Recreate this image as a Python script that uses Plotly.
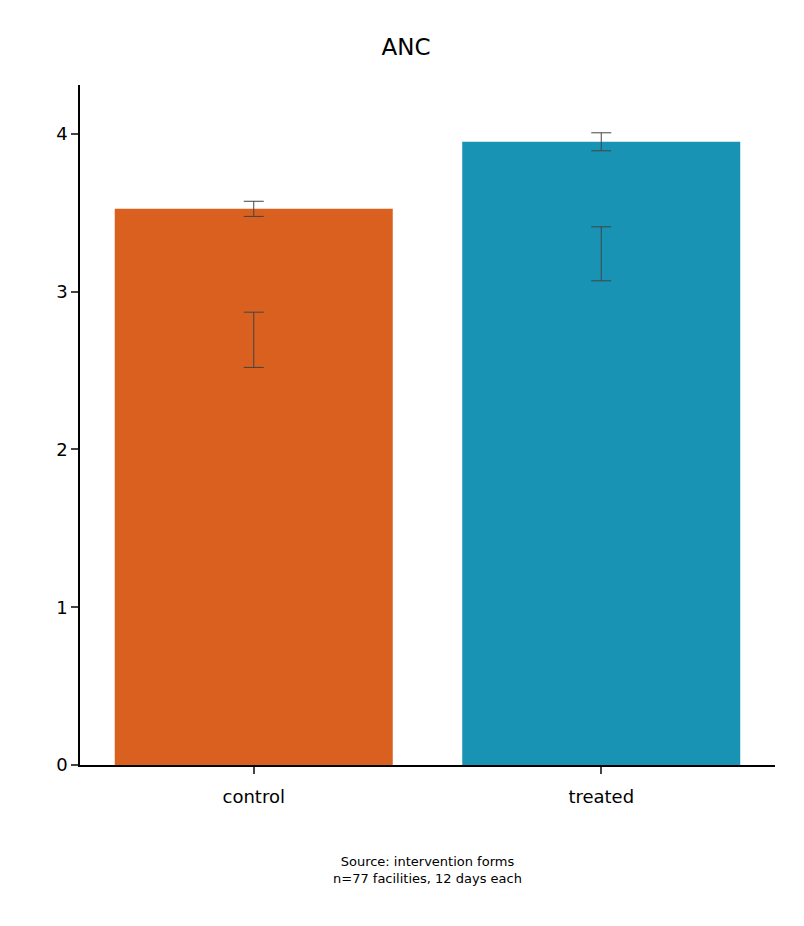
import plotly.graph_objects as go

categories = ["control", "treated"]
means = [3.525, 3.95]
err_top = [0.048, 0.057]
alt_centers = [2.695, 3.24]
alt_err = [0.175, 0.171]
colors = ["#D9601F", "#1993B4"]

fig = go.Figure()
fig.add_trace(go.Bar(x=categories, y=means, marker_color=colors, width=0.8, marker_line_width=0,
                     error_y=dict(type="data", array=err_top, color="#444444", thickness=1, width=10),
                     showlegend=False))
fig.add_trace(go.Scatter(x=categories, y=alt_centers, mode="markers",
                         marker=dict(size=1, color="rgba(0,0,0,0)"),
                         error_y=dict(type="data", array=alt_err, color="#444444", thickness=1, width=10),
                         showlegend=False))
fig.update_layout(
    width=796, height=918, plot_bgcolor="white", paper_bgcolor="white",
    margin=dict(l=72, r=29, t=77, b=161),
    font=dict(family="DejaVu Sans", color="black", size=18),
    title=dict(text="ANC", x=0.5, xanchor="center", y=1-39/918, yanchor="middle", font=dict(size=23)),
    xaxis=dict(range=[-0.5, 1.5], showline=True, linecolor="black", linewidth=1.5,
               ticks="outside", ticklen=7, tickwidth=1.5, tickfont=dict(size=18), ticklabelstandoff=8),
    yaxis=dict(range=[0, 4.31], showline=True, linecolor="black", linewidth=1.5, showgrid=False,
               zeroline=False, ticks="outside", ticklen=7, tickwidth=1.5, tickvals=[0, 1, 2, 3, 4],
               tickfont=dict(size=18)),
    annotations=[dict(text="Source: intervention forms<br>n=77 facilities, 12 days each",
                      x=0.5, xref="paper", y=-105/680, yref="paper", yanchor="middle",
                      showarrow=False, font=dict(size=13))],
)
fig.write_html("out.html")
